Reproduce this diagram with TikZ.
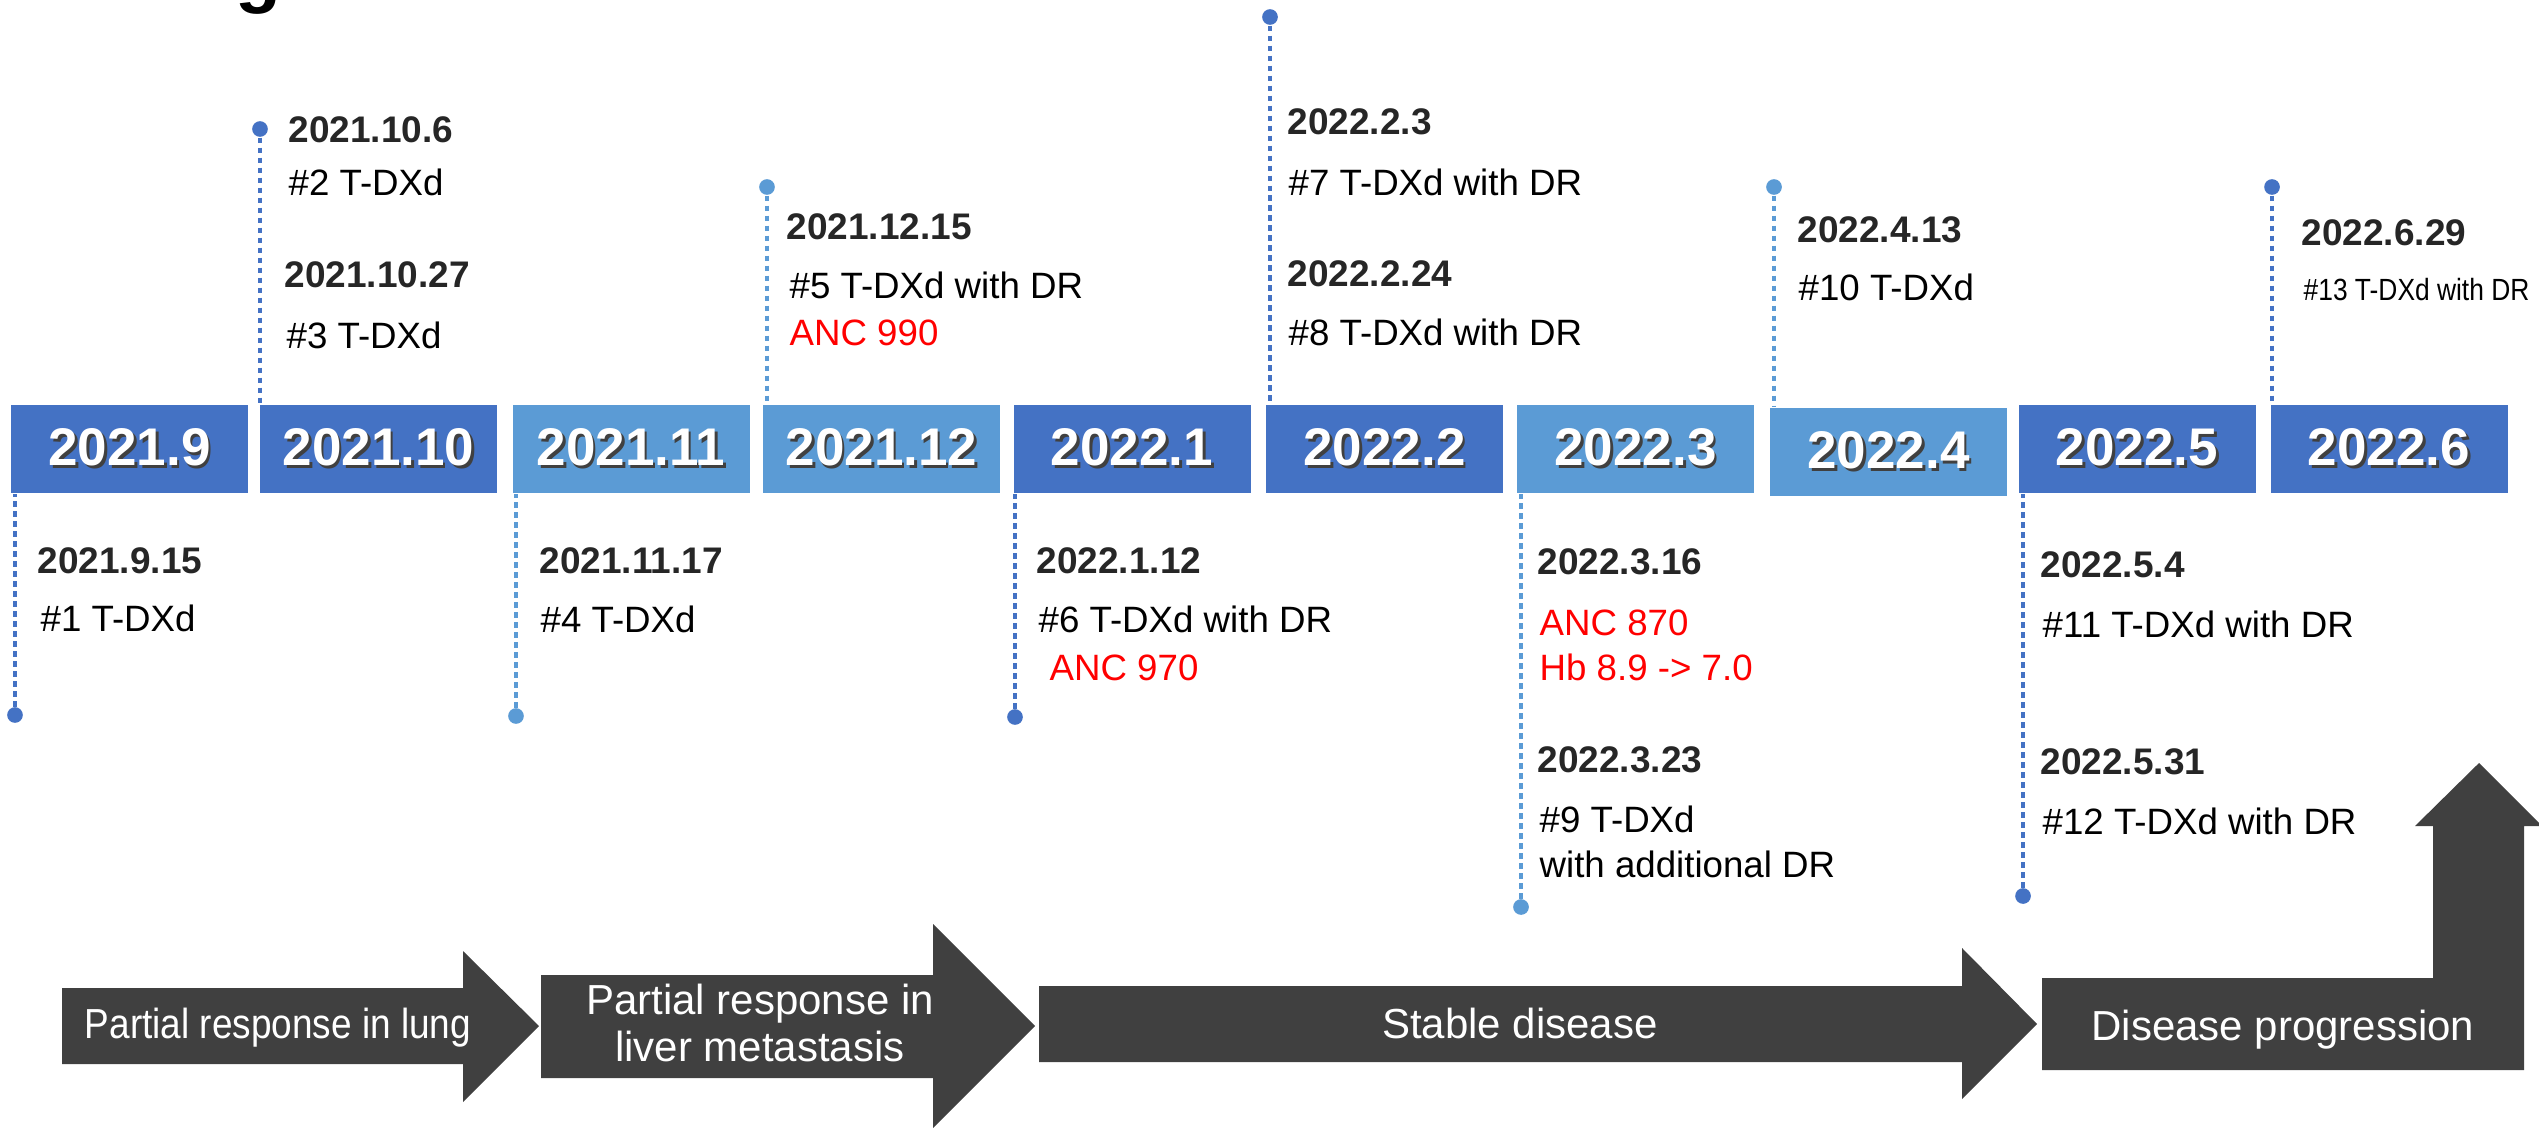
\documentclass[tikz,border=0pt]{standalone}
\usepackage{fontspec}
\setmainfont{Liberation Sans}
\definecolor{dblue}{HTML}{4472C4}
\definecolor{lblue}{HTML}{5B9BD5}
\definecolor{agray}{HTML}{404040}
\definecolor{dtext}{HTML}{262626}
\definecolor{shc}{HTML}{404040}
\newcommand\shtext[1]{\makebox[0pt][l]{\kern0.8pt\raisebox{-0.8pt}{\textcolor{shc}{#1}}}\textcolor{white}{#1}}
\tikzset{
  mbox/.style={rectangle, inner sep=0pt, minimum width=71.1pt, minimum height=26.4pt,
    font=\fontsize{15.9}{18}\selectfont\bfseries},
  dkbox/.style={mbox, fill=dblue},
  ltbox/.style={mbox, fill=lblue},
  datelbl/.style={anchor=base west, inner sep=0pt, font=\fontsize{11.1}{13}\selectfont\bfseries, text=dtext},
  evlbl/.style={anchor=base west, inner sep=0pt, font=\fontsize{11}{13}\selectfont, text=black},
  redlbl/.style={evlbl, text=red},
  evdot/.style={circle, inner sep=0pt, minimum size=4.7pt},
  dkdot/.style={evdot, fill=dblue},
  ltdot/.style={evdot, fill=lblue},
  conn/.style={line width=1.3pt, dash pattern=on 1.7pt off 1.3pt},
  dkconn/.style={conn, draw=dblue},
  ltconn/.style={conn, draw=lblue},
  arrtxt/.style={anchor=base, inner sep=0pt, text=white, font=\fontsize{12.6}{15}\selectfont},
  stagearrow/.style={fill=agray, draw=none},
}
\begin{document}
\begin{tikzpicture}[x=0.3pt, y=-0.3pt]
\useasboundingbox (0,0) rectangle (2539,1127);
\clip (0,0) rectangle (2539,1127);

% title (cut off at top)
\node[anchor=base west, inner sep=0pt, font=\fontsize{22.5}{26}\selectfont\bfseries] (title) at (110,-1.5) {Progress};

% month boxes
\node[dkbox] (m1) at (129.5,449) {\shtext{2021.9}};
\node[dkbox] (m2) at (378.5,449) {\shtext{2021.10}};
\node[ltbox] (m3) at (631,449) {\shtext{2021.11}};
\node[ltbox] (m4) at (881.5,449) {\shtext{2021.12}};
\node[dkbox] (m5) at (1132,449) {\shtext{2022.1}};
\node[dkbox] (m6) at (1384.5,449) {\shtext{2022.2}};
\node[ltbox] (m7) at (1635.5,449) {\shtext{2022.3}};
\node[ltbox] (m8) at (1888.5,451.5) {\shtext{2022.4}};
\node[dkbox] (m9) at (2137,449) {\shtext{2022.5}};
\node[dkbox] (m10) at (2389,449) {\shtext{2022.6}};

% event dots
\node[dkdot] (dA) at (260,129) {};
\node[ltdot] (dB) at (767,187) {};
\node[dkdot] (dC) at (1270,17) {};
\node[ltdot] (dD) at (1774,187) {};
\node[dkdot] (dE) at (2272,187) {};
\node[dkdot] (dF) at (15,715) {};
\node[ltdot] (dG) at (516,716) {};
\node[dkdot] (dH) at (1015,717) {};
\node[ltdot] (dI) at (1521,907) {};
\node[dkdot] (dJ) at (2023,896) {};

% connectors
\draw[dkconn] (dA.south) -- (dA.south |- m2.north);
\draw[ltconn] (dB.south) -- (dB.south |- m4.north);
\draw[dkconn] (dC.south) -- (dC.south |- m6.north);
\draw[ltconn] (dD.south) -- (dD.south |- m8.north);
\draw[dkconn] (dE.south) -- (dE.south |- m10.north);
\draw[dkconn] (dF.north) -- (dF.north |- m1.south);
\draw[ltconn] (dG.north) -- (dG.north |- m3.south);
\draw[dkconn] (dH.north) -- (dH.north |- m5.south);
\draw[ltconn] (dI.north) -- (dI.north |- m7.south);
\draw[dkconn] (dJ.north) -- (dJ.north |- m9.south);

% event texts
\node[datelbl] (tA1) at (288,142) {2021.10.6};
\node[evlbl] (tA2) at (288,195) {\#2 T-DXd};
\node[datelbl] (tA3) at (284,287) {2021.10.27};
\node[evlbl] (tA4) at (286,348) {\#3 T-DXd};

\node[datelbl] (tB1) at (786,239) {2021.12.15};
\node[evlbl] (tB2) at (789,298) {\#5 T-DXd with DR};
\node[redlbl] (tB3) at (789,345) {ANC 990};

\node[datelbl] (tC1) at (1287,134) {2022.2.3};
\node[evlbl] (tC2) at (1288,195) {\#7 T-DXd with DR};
\node[datelbl] (tC3) at (1287,286) {2022.2.24};
\node[evlbl] (tC4) at (1288,345) {\#8 T-DXd with DR};

\node[datelbl] (tD1) at (1797,242) {2022.4.13};
\node[evlbl] (tD2) at (1798,300) {\#10 T-DXd};

\node[datelbl] (tE1) at (2301,245) {2022.6.29};
\node[anchor=base west, inner sep=0pt, font=\fontsize{9.2}{11}\selectfont] (tE2) at (2303,300) {\scalebox{0.86}[1]{\#13 T-DXd with DR}};

\node[datelbl] (tF1) at (37,573) {2021.9.15};
\node[evlbl] (tF2) at (40,631) {\#1 T-DXd};

\node[datelbl] (tG1) at (539,573) {2021.11.17};
\node[evlbl] (tG2) at (540,632) {\#4 T-DXd};

\node[datelbl] (tH1) at (1036,573) {2022.1.12};
\node[evlbl] (tH2) at (1038,632) {\#6 T-DXd with DR};
\node[redlbl] (tH3) at (1049,680) {ANC 970};

\node[datelbl] (tI1) at (1537,574) {2022.3.16};
\node[redlbl] (tI2) at (1539,635) {ANC 870};
\node[redlbl] (tI3) at (1539,680) {Hb 8.9 -> 7.0};
\node[datelbl] (tI4) at (1537,772) {2022.3.23};
\node[evlbl] (tI5) at (1539,832) {\#9 T-DXd};
\node[evlbl] (tI6) at (1539,877) {with additional DR};

\node[datelbl] (tJ1) at (2040,577) {2022.5.4};
\node[evlbl] (tJ2) at (2042,637) {\#11 T-DXd with DR};
\node[datelbl] (tJ3) at (2040,774) {2022.5.31};
\node[evlbl] (tJ4) at (2042,834) {\#12 T-DXd with DR};

% stage arrows
\fill[stagearrow] (62,988) -- (463,988) -- (463,951) -- (539,1026) -- (463,1102) -- (463,1064) -- (62,1064) -- cycle;
\fill[stagearrow] (541,975) -- (933,975) -- (933,924) -- (1035,1026) -- (933,1128) -- (933,1078) -- (541,1078) -- cycle;
\fill[stagearrow] (1039,986) -- (1962,986) -- (1962,948) -- (2037,1024) -- (1962,1099) -- (1962,1062) -- (1039,1062) -- cycle;
\fill[stagearrow] (2042,978) -- (2433,978) -- (2433,826) -- (2415,826) -- (2479,763) -- (2542,826) -- (2524,826) -- (2524,1070) -- (2042,1070) -- cycle;

\node[arrtxt] (s1) at (278,1038) {\scalebox{0.88}[1]{Partial response in lung}};
\node[arrtxt] (s2a) at (760,1014) {Partial response in};
\node[arrtxt] (s2b) at (760,1061) {liver metastasis};
\node[arrtxt] (s3) at (1520,1038) {Stable disease};
\node[arrtxt] (s4) at (2283,1040) {Disease progression};
\end{tikzpicture}
\end{document}
